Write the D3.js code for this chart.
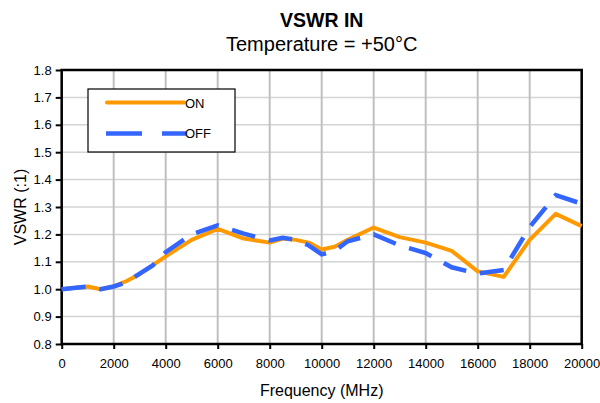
<!DOCTYPE html>
<html><head><meta charset="utf-8">
<script src="https://cdn.jsdelivr.net/npm/d3@7/dist/d3.min.js"></script>
<style>body{margin:0;background:#fff}svg{display:block;font-family:"Liberation Sans",Arial,sans-serif}</style>
</head><body>
<script>
const freqOn  = [0,1000,1500,2000,2500,3000,4000,5000,6000,7000,8000,8500,9000,9500,10000,10500,11000,12000,13000,14000,15000,16000,17000,18000,19000,20000];
const vswrOn  = [1.00,1.01,1.00,1.01,1.03,1.055,1.12,1.18,1.22,1.185,1.17,1.185,1.18,1.17,1.145,1.155,1.18,1.225,1.19,1.17,1.14,1.065,1.045,1.18,1.275,1.23];
const freqOff = [0,1000,1500,2000,2500,3000,3500,4000,5000,6000,7000,8000,8500,9000,9500,10000,10500,11000,12000,13000,14000,15000,16000,17000,18000,19000,20000];
const vswrOff = [1.00,1.01,1.00,1.01,1.025,1.057,1.087,1.135,1.20,1.233,1.203,1.178,1.188,1.18,1.16,1.127,1.14,1.175,1.20,1.16,1.132,1.08,1.057,1.07,1.227,1.343,1.312];
const xTicks = [0,2000,4000,6000,8000,10000,12000,14000,16000,18000,20000];
const yTicks = [0.8,0.9,1.0,1.1,1.2,1.3,1.4,1.5,1.6,1.7,1.8];
const seriesNames = ["ON","OFF"];
const colors = ["#FF9900","#3366FF"];

const W=600,H=403;
const L=61.7,R=581.7,T=70,B=344;
const svg=d3.select("body").append("svg").attr("width",W).attr("height",H);
const x=d3.scaleLinear().domain([0,20000]).range([L,R]);
const y=d3.scaleLinear().domain([0.8,1.8]).range([B,T]);

// grid
svg.append("g").selectAll("line").data(yTicks).join("line")
  .attr("x1",L).attr("x2",R).attr("y1",d=>y(d)).attr("y2",d=>y(d))
  .attr("stroke","#d4d4d4").attr("stroke-width",1.5);
svg.append("g").selectAll("line").data(xTicks).join("line")
  .attr("y1",T).attr("y2",B).attr("x1",d=>x(d)).attr("x2",d=>x(d))
  .attr("stroke","#c0c0c0").attr("stroke-width",2);

// axes
const yAxis=svg.append("g").attr("transform",`translate(${L},0)`)
  .call(d3.axisLeft(y).tickValues(yTicks).tickFormat(d3.format(".1f")).tickSize(6).tickPadding(4));
const xAxis=svg.append("g").attr("transform",`translate(0,${B})`)
  .call(d3.axisBottom(x).tickValues(xTicks).tickFormat(d3.format("d")).tickSize(5).tickPadding(10));
[yAxis,xAxis].forEach(a=>{
  a.select(".domain").remove();
  a.selectAll("line").attr("stroke","#000").attr("stroke-width",2);
  a.selectAll("text").attr("font-size",13).attr("fill","#000").attr("font-family","Liberation Sans, Arial, sans-serif");
});

// frame
svg.append("rect").attr("x",L).attr("y",T).attr("width",R-L).attr("height",B-T)
  .attr("fill","none").attr("stroke","#000").attr("stroke-width",2.5);

const line=d3.line().x(d=>x(d[0])).y(d=>y(d[1]));
svg.append("path").datum(freqOn.map((f,i)=>[f,vswrOn[i]]))
  .attr("d",line).attr("fill","none").attr("stroke",colors[0]).attr("stroke-width",4).attr("stroke-linejoin","round");
svg.append("path").datum(freqOff.map((f,i)=>[f,vswrOff[i]]))
  .attr("d",line).attr("fill","none").attr("stroke",colors[1]).attr("stroke-width",4.5).attr("stroke-dasharray","24,14");

// legend
const lg=svg.append("g");
lg.append("rect").attr("x",88).attr("y",89).attr("width",147).attr("height",63)
  .attr("fill","#fff").attr("stroke","#000").attr("stroke-width",1.2);
lg.append("line").attr("x1",107).attr("x2",184).attr("y1",102.5).attr("y2",102.5)
  .attr("stroke",colors[0]).attr("stroke-width",4).attr("stroke-linecap","round");
lg.append("line").attr("x1",106).attr("x2",186).attr("y1",133.5).attr("y2",133.5)
  .attr("stroke",colors[1]).attr("stroke-width",4.5).attr("stroke-dasharray","36,20");
lg.selectAll("text").data(seriesNames).join("text")
  .attr("x",185).attr("y",(d,i)=>i?138:108).attr("font-size",13).text(d=>d);

// titles
svg.append("text").attr("x",321.7).attr("y",27).attr("text-anchor","middle")
  .attr("font-size",19.5).attr("font-weight","bold").text("VSWR IN");
svg.append("text").attr("x",321.7).attr("y",51).attr("text-anchor","middle")
  .attr("font-size",20).text("Temperature = +50°C");
svg.append("text").attr("x",321.7).attr("y",396).attr("text-anchor","middle")
  .attr("font-size",16).text("Frequency (MHz)");
svg.append("text").attr("transform",`translate(26,${(T+B)/2}) rotate(-90)`).attr("text-anchor","middle")
  .attr("font-size",16).text("VSWR (:1)");
</script>
</body></html>
